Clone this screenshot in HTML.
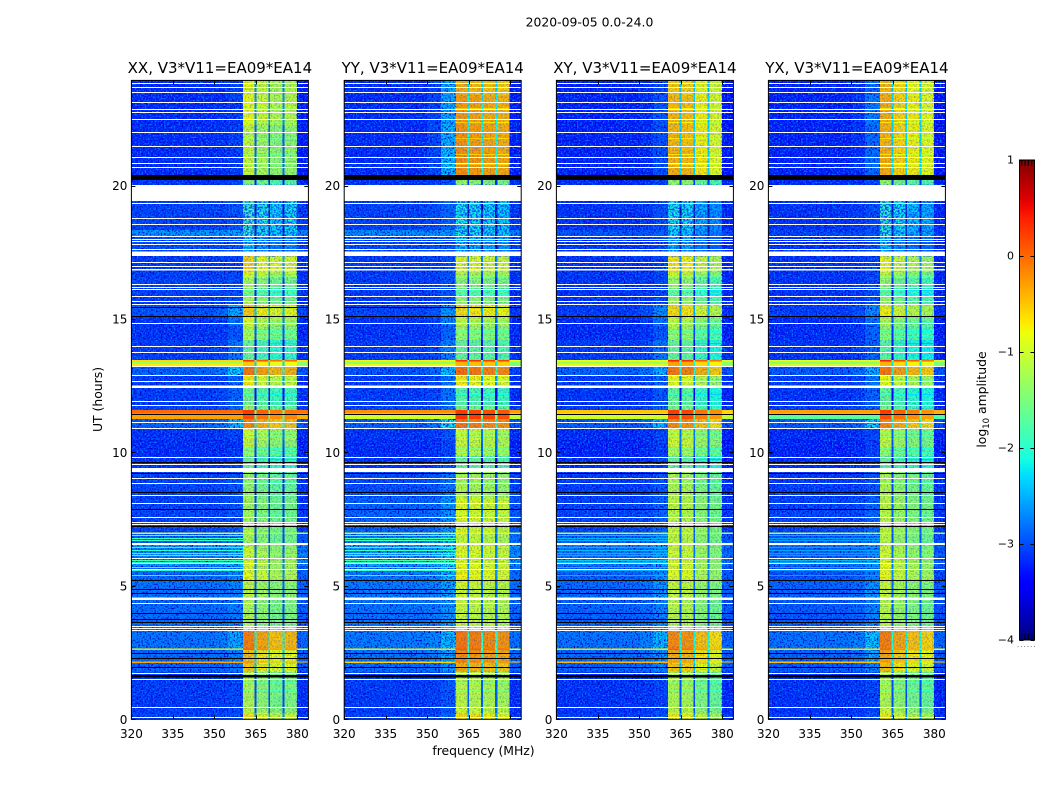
<!DOCTYPE html>
<html lang="en">
<head>
<meta charset="utf-8">
<title>2020-09-05 amplitude waterfall</title>
<style>
html,body{margin:0;padding:0;background:#fff;}
svg{display:block;}
text{font-family:"DejaVu Sans","Liberation Sans",sans-serif;fill:#000;}
</style>
</head>
<body>
<svg id="figure" xmlns="http://www.w3.org/2000/svg" width="1050" height="800" viewBox="0 0 1050 800">
  <defs>
    <filter id="speckle-dark" x="0" y="0" width="1" height="1" color-interpolation-filters="sRGB">
      <feTurbulence type="fractalNoise" baseFrequency="0.62" numOctaves="1" seed="4"/>
      <feColorMatrix values="0 0 0 0 0  0 0 0 0 0  0 0 0 0 0.78  4 0 0 0 -1.85"/>
    </filter>
    <filter id="speckle-light" x="0" y="0" width="1" height="1" color-interpolation-filters="sRGB">
      <feTurbulence type="fractalNoise" baseFrequency="0.62" numOctaves="1" seed="11"/>
      <feColorMatrix values="0 0 0 0 0  0 0 0 0 0.5  0 0 0 0 1  0 4 0 0 -1.95"/>
    </filter>
    <filter id="speckle-strong" x="0" y="0" width="1" height="1" color-interpolation-filters="sRGB">
      <feTurbulence type="fractalNoise" baseFrequency="0.55" numOctaves="1" seed="7"/>
      <feColorMatrix values="0 0 0 0 0  0 0 0 0 0.3  0 0 0 0 1  6 0 0 0 -2.7"/>
    </filter>
    <linearGradient id="jet-gradient" x1="0" y1="1" x2="0" y2="0"></linearGradient>
  </defs>
  <text x="589.5" y="26.5" font-size="12.4" text-anchor="middle">2020-09-05 0.0-24.0</text>
  <text x="483.5" y="755" font-size="12.4" text-anchor="middle">frequency (MHz)</text>
  <text transform="translate(102,399.5) rotate(-90)" font-size="12.4" text-anchor="middle">UT (hours)</text>
  <g id="panels"></g>
  <g id="colorbar"></g>
  <text transform="translate(986,399.5) rotate(-90)" font-size="12.4" text-anchor="middle">log<tspan font-size="8.5" dy="3">10</tspan><tspan dy="-3"> amplitude</tspan></text>
</svg>
<script>
// Time segments: lower edge of each segment, in UT hours (top of the plot is axisTopHour).
const segmentBottomHours = [
23.40,22.28,21.34,20.40,20.21,20.03,19.43,18.34,18.11,17.52,
17.36,16.77,16.54,16.20,15.85,15.53,15.12,14.75,14.22,13.47,
13.41,13.24,12.90,12.42,11.78,11.59,11.46,11.26,10.92,10.47,
10.20,9.87,9.42,9.27,8.33,7.25,7.00,6.96,6.53,6.40,
6.25,6.10,5.95,5.75,5.55,5.22,4.58,4.47,3.53,3.35,
2.65,2.61,2.17,2.13,1.77,1.55,0.46,0.24,0];

// log10 amplitude outside the band (320-350 MHz)
const backgroundXX = [
-3.2,-3.2,-3.2,-3.2,-2.9,-3.15,-3.15,-3.05,-2.55,-3,
-3.15,-3.1,-3.1,-3.05,-3.05,-3.1,-2.95,-3.15,-3.15,-3.1,
-.6,-1.3,-2.85,-3.1,-3.1,-3.05,0,-.3,-2.85,-3.15,
-3.2,-3.2,-3.15,-3.05,-3.05,-3.05,-3.05,-1,-2.85,-2.5,
-2.75,-2.5,-2.75,-2.5,-2.8,-2.8,-2.75,-2.85,-2.8,-2.75,
-2.75,-.8,-2.8,-.35,-2.85,-3.05,-3.1,-3.1,-3.05];
const backgroundYY = [
-3.2,-3.2,-3.2,-3.2,-2.9,-3.15,-3.15,-3.05,-2.6,-3,
-3.15,-3.1,-3.1,-3.1,-3.1,-3.1,-3.05,-3.15,-3.15,-3.1,
-.75,-1.4,-2.95,-3.1,-3.1,-3.05,-.2,-1,-2.85,-3.15,
-3.2,-3.2,-3.15,-3.05,-3,-2.85,-2.85,-1.1,-2.7,-2.45,
-2.65,-2.45,-2.65,-2.45,-2.7,-2.7,-2.7,-2.75,-2.75,-2.7,
-2.7,-.8,-2.75,-.5,-2.8,-3.05,-3.1,-3.1,-3.05];
const backgroundXY = [
-3.25,-3.25,-3.25,-3.25,-2.95,-3.2,-3.2,-3.15,-2.95,-3.15,
-3.2,-3.15,-3.15,-3.15,-3.15,-3.15,-3.1,-3.2,-3.2,-3.1,
-.8,-1.3,-2.85,-3.1,-3.15,-3.1,-.5,-1,-2.9,-3.2,
-3.25,-3.25,-3.2,-3.15,-3.1,-3.05,-3.05,-1.2,-2.85,-2.65,
-2.8,-2.65,-2.8,-2.65,-2.85,-2.85,-2.8,-2.9,-2.85,-2.8,
-2.75,-.7,-2.8,-.5,-2.85,-3.1,-3.15,-3.15,-3.1];
const backgroundYX = [
-3.25,-3.25,-3.25,-3.25,-2.95,-3.2,-3.2,-3.15,-3.05,-3.15,
-3.2,-3.15,-3.15,-3.15,-3.15,-3.15,-3.1,-3.2,-3.2,-3.15,
-.85,-1.4,-2.9,-3.1,-3.15,-3.1,-.3,-1.7,-2.9,-3.2,
-3.25,-3.25,-3.2,-3.15,-3.1,-3.05,-3.05,-1.2,-2.9,-2.75,
-2.9,-2.75,-2.9,-2.75,-2.9,-2.95,-2.85,-2.95,-2.9,-2.85,
-2.75,-.7,-2.85,-.5,-2.9,-3.1,-3.15,-3.15,-3.1];

// log10 amplitude of the band shoulder (355-360 MHz)
const shoulderXX = [
-3.1,-3.1,-3.1,-3.1,-2.8,-3.05,-3.05,-2.95,-2.5,-2.95,
-3.05,-3.05,-3.05,-3,-3,-3,-2.45,-2.75,-2.95,-2.75,
-.6,-1.3,-2.25,-2.85,-2.85,-2.85,0,-.3,-2.35,-3.05,
-3.15,-3.15,-3.05,-2.95,-2.95,-2.95,-2.95,-1,-2.7,-2.4,
-2.6,-2.4,-2.6,-2.4,-2.65,-2.65,-2.65,-2.75,-2.7,-2.65,
-2.45,-.8,-2.65,-.35,-2.75,-2.95,-3.05,-3.05,-3];
const shoulderYY = [
-2.45,-2.45,-2.4,-2.35,-2.45,-2.95,-3,-2.85,-2.55,-2.95,
-3.05,-3,-3,-2.95,-2.95,-2.95,-2.55,-2.65,-2.85,-2.65,
-.75,-1.4,-2.35,-2.75,-2.75,-2.75,-.2,-1,-2.15,-2.95,
-3.05,-3.05,-2.95,-2.85,-2.75,-2.55,-2.55,-1.1,-2.4,-2.15,
-2.35,-2.15,-2.35,-2.15,-2.35,-2.4,-2.45,-2.55,-2.55,-2.45,
-2.35,-.8,-2.45,-.5,-2.55,-2.85,-2.95,-2.95,-2.85];
const shoulderXY = [
-3,-2.95,-3,-3,-2.85,-3.05,-3.05,-3,-2.85,-3,
-3.05,-3.05,-3.05,-3.05,-3.05,-3.05,-2.6,-2.75,-2.95,-2.75,
-.8,-1.3,-2.4,-2.85,-2.95,-2.85,-.5,-1,-2.35,-3.05,
-3.1,-3.1,-3.05,-2.95,-2.95,-2.85,-2.85,-1.2,-2.65,-2.45,
-2.6,-2.45,-2.6,-2.45,-2.6,-2.6,-2.55,-2.65,-2.65,-2.55,
-2.35,-.7,-2.55,-.5,-2.65,-2.95,-3.05,-3.05,-2.95];
const shoulderYX = [
-2.8,-2.7,-2.8,-2.8,-2.75,-3.05,-3.05,-3,-2.95,-3,
-3.05,-3.05,-3.05,-3,-3,-3,-2.6,-2.75,-2.85,-2.85,
-.85,-1.4,-2.4,-2.75,-2.85,-2.85,-.3,-1.7,-2.25,-3.05,
-3.1,-3.05,-3.05,-2.95,-2.95,-2.85,-2.85,-1.2,-2.75,-2.55,
-2.7,-2.55,-2.7,-2.55,-2.7,-2.7,-2.55,-2.65,-2.65,-2.4,
-2.3,-.7,-2.45,-.5,-2.65,-2.95,-3.05,-3.05,-2.95];

// log10 amplitude of the strongest sub-band (360-365 MHz)
const signalXX = [
-.85,-.8,-1.05,-1,-1.3,-1.4,-2,-1.85,-1.9,-2.3,
-2.3,-.6,-.8,-1.2,-1.35,-1.2,-.55,-.85,-1.05,-1.6,
.3,-.5,-.1,-.7,-1.5,-1.3,.25,.15,-.2,-.85,
-1.05,-1.2,-1.6,-1.5,-1.3,-1.2,-1.15,-1,-1.2,-1,
-1,-.9,-1,-.85,-.9,-.8,-1.05,-1,-1.15,-1,
-.15,.05,-.5,-.1,-.55,-1.1,-1.15,-1.05,-.7];
const signalYY = [
-.4,-.28,-.25,-.22,-1.2,-1.3,-2.2,-2.1,-2.1,-2.35,
-2.3,-.85,-1.05,-1.35,-1.5,-1.3,-.65,-1,-1.2,-1.6,
.35,-.4,-.05,-.7,-1.7,-1.5,.25,.3,-.1,-.9,
-1,-1,-1.6,-1.5,-1.15,-.85,-.9,-.7,-1,-.85,
-.85,-.8,-.85,-.85,-.8,-.75,-.95,-.9,-1,-.85,
-.1,.1,-.2,0,-.4,-1,-1.05,-.95,-.65];
const signalXY = [
-.55,-.45,-.45,-.4,-1.1,-1.3,-2.15,-2.1,-2.2,-2.4,
-2.3,-.7,-.95,-1.3,-1.45,-1.25,-.65,-1,-1.2,-1.6,
.4,-.3,-.1,-.8,-1.6,-1.5,.25,.2,-.2,-.9,
-.95,-1.05,-1.6,-1.5,-1.15,-1.05,-1,-.95,-1.05,-.95,
-.95,-.9,-.95,-.9,-.9,-.85,-1,-1,-1.1,-1,
-.2,.05,-.4,-.2,-.55,-1.1,-1.15,-1.05,-.75];
const signalYX = [
-.45,-.4,-.42,-.38,-1.1,-1.3,-2,-1.95,-2,-2.35,
-2.3,-.8,-1,-1.35,-1.5,-1.3,-.75,-1.1,-1.3,-1.7,
.4,-.4,-.1,-.8,-1.6,-1.5,.25,.15,-.2,-1,
-1.05,-1.2,-1.6,-1.5,-1.15,-1.05,-1.05,-1,-1.1,-1,
-.95,-.9,-.95,-.85,-.85,-.8,-1,-1,-1.1,-1,
-.15,0,-.35,-.2,-.5,-1.1,-1.15,-1,-.75];

// Frequency channel edges in MHz
const channelEdgesMHz = [320,350,355,360.3,364.5,365.2,369.5,370.2,374.6,375.4,379.8,384];
// Offsets (log10) of the four sub-bands and the three notches between them, per correlation
const offsetsXX = [0,-1.85,-.2,-1.85,-.35,-1.85,-.3];
const offsetsYY = [0,-1.85,-.05,-1.85,-.1,-1.85,-.15];
const offsetsXY = [0,-1.85,-.05,-1.85,-.3,-1.85,-.45];
const offsetsYX = [0,-1.85,-.2,-1.85,-.35,-1.85,-.45];

// Bright interference streaks left of the band
const streakHours = [13.32,13.28,6.99,6.91,6.81,6.72,6.46,6.35,6.24,6.15,5.97,5.88,5.70,5.60,5.41,2.63,2.15];
const streakXX = [-.7,-.7,-1,-1.6,-1.9,-2,-2,-2,-2,-2,-1.9,-2,-2,-2,-2.1,-.5,-.3];
const streakYY = [-.85,-.85,-1,-1.5,-1.8,-1.9,-1.9,-1.9,-1.9,-1.9,-1.85,-1.9,-1.9,-1.9,-2,-.6,-.55];
const streakXY = [-.9,-.9,-1.2,-2.4,-2.5,-2.5,-2.5,-2.45,-2.5,-2.5,-2.4,-2.45,-2.45,-2.5,-2.5,-.6,-.4];
const streakYX = [-1,-1,-1.2,-2.5,-2.6,-2.6,-2.6,-2.55,-2.6,-2.6,-2.5,-2.55,-2.55,-2.6,-2.6,-.6,-.45];

// In-band dim rows (hours) and how far they drop (log10)
const bandDimHours = [22.9,22.4,21.8,21.2,20.8,17.0,16.6,16.1,15.95,15.75,15.6,15.0,14.9,14.6,14.5,14.35,14.1,12.7,12.2,10.75,10.6,10.35,10.15,10.0,9.75,8.9,7.7,6.2,5.8,5.4,4.2,1.4,1.2,1.1,0.9,0.6];
const bandDimDrop = [.2,.25,.2,.25,.2,.35,.3,.35,.35,.4,.35,.3,.3,.35,.35,.3,.35,.3,.3,.35,.4,.35,.4,.35,.4,.2,.2,.2,.25,.2,.25,.3,.35,.3,.35,.3];

// Flagged (missing) time rows, in UT hours
const whiteThinHours = [
23.84,23.69,23.50,23.13,22.87,22.75,22.50,22.00,21.50,21.06,20.85,20.69,
19.34,18.78,18.55,18.11,18.00,17.92,17.82,17.61,17.13,16.98,16.33,16.22,
16.12,15.85,15.69,15.55,14.84,14.00,13.76,13.24,12.90,12.68,11.94,11.78,
11.14,10.91,9.84,9.57,9.03,8.84,8.41,8.10,7.57,7.39,7.33,6.62,6.56,6.06,
5.85,5.62,4.36,3.51,3.43,3.35,1.75,1.52,0.46,0.07];
const whiteWideStart = [20.03,17.53,16.88,12.51,9.42,4.57];
const whiteWideEnd = [19.43,17.36,16.82,12.42,9.26,4.47];
const blackThinHours = [
15.13,11.46,9.63,9.22,8.51,7.87,7.25,5.21,4.87,4.75,3.97,3.77,3.65,2.47,2.29,1.95];
const blackWideStart = [20.40,1.66];
const blackWideEnd = [20.21,1.57];

// Band rows with patchy (flickering) power
const patchyStart = [20.03];
const patchyEnd = [17.36];

// Axis ticks and labels
const freqTicks = [320,335,350,365,380];
const hourTicks = [0,5,10,15,20];
const colorTicks = [1,0,-1,-2,-3,-4];
const panelNames = ["XX","YY","XY","YX"];
const panelTitles = ["XX, V3*V11=EA09*EA14","YY, V3*V11=EA09*EA14","XY, V3*V11=EA09*EA14","YX, V3*V11=EA09*EA14"];

const backgrounds = [backgroundXX,backgroundYY,backgroundXY,backgroundYX];
const shoulders = [shoulderXX,shoulderYY,shoulderXY,shoulderYX];
const signals = [signalXX,signalYY,signalXY,signalYX];
const offsets = [offsetsXX,offsetsYY,offsetsXY,offsetsYX];
const streaks = [streakXX,streakYY,streakXY,streakYX];

// Layout
const panelLeft = [131.4,344.2,556.4,768.4];
const panelWidth = 177;
const plotBottom = 719.3;
const plotTop = 80.4;
const pxPerMHz = panelWidth/64;
const pxPerHour = 26.68;
const axisTopHour = (plotBottom-plotTop)/pxPerHour;
const NS = "http://www.w3.org/2000/svg";

function xScale(panel, mhz){ return panelLeft[panel] + (mhz-320)*pxPerMHz; }
function yScale(hour){ return plotBottom - hour*pxPerHour; }

function interp(points, t){
  for(let i=1;i<points.length;i++){
    if(t<=points[i][0]){
      const a=points[i-1], b=points[i];
      return a[1]+(b[1]-a[1])*(t-a[0])/(b[0]-a[0]);
    }
  }
  return points[points.length-1][1];
}
const jetR=[[0,0],[.35,0],[.66,1],[.89,1],[1,.5]];
const jetG=[[0,0],[.125,0],[.375,1],[.64,1],[.91,0],[1,0]];
const jetB=[[0,.5],[.11,1],[.34,1],[.65,0],[1,0]];
function jetColor(level){
  const t=Math.max(0,Math.min(1,(level+4)/5));
  const c=[jetR,jetG,jetB].map(p=>Math.round(interp(p,t)*255));
  return "rgb("+c[0]+","+c[1]+","+c[2]+")";
}
function channelLevel(panel, seg, col){
  const bg=backgrounds[panel][seg], sh=shoulders[panel][seg], sig=signals[panel][seg];
  if(col===0) return bg;
  if(col===1) return bg+(sh-bg)*.2;
  if(col===2) return sh;
  if(col===10) return bg-.08;
  return sig+offsets[panel][col-3];
}
function segmentIndex(hour){
  for(let s=0;s<segmentBottomHours.length;s++){
    if(hour>=segmentBottomHours[s]) return s;
  }
  return segmentBottomHours.length-1;
}
function make(tag, attrs, parent){
  const e=document.createElementNS(NS,tag);
  for(const k in attrs) e.setAttribute(k,attrs[k]);
  parent.appendChild(e);
  return e;
}

const panelsGroup=document.getElementById("panels");
panelNames.forEach(function(name,p){
  const g=make("g",{},panelsGroup);
  
  

  const cells=make("g",{"shape-rendering":"crispEdges"},g);
  
  

  // receiver noise texture over the quiet part of the heatmap
  const noiseSpans=[[320,360.3,1],[360.3,379.8,.25],[379.8,384,1]];
  noiseSpans.forEach(function(span){
    const dark=make("rect",{x:xScale(p,span[0]),y:plotTop,width:xScale(p,span[1])-xScale(p,span[0]),height:plotBottom-plotTop,filter:"url(#speckle-dark)",opacity:span[2]},g);
    
    
    const light=make("rect",{x:xScale(p,span[0]),y:plotTop,width:xScale(p,span[1])-xScale(p,span[0]),height:plotBottom-plotTop,filter:"url(#speckle-light)",opacity:span[2]},g);
    
    
  });
  patchyStart.forEach(function(h,i){
    const patch=make("rect",{x:xScale(p,360.3),y:yScale(h),width:xScale(p,379.8)-xScale(p,360.3),height:yScale(patchyEnd[i])-yScale(h),filter:"url(#speckle-strong)"},g);
    
    
  });

  // bright rows sit above the noise texture
  const bright=make("g",{"shape-rendering":"crispEdges"},g);
  
  

  let top=axisTopHour;
  segmentBottomHours.forEach(function(bottom,s){
    const target=backgrounds[p][s]>-1.8?bright:cells;
    for(let c=0;c<channelEdgesMHz.length-1;c++){
      const x0=xScale(p,channelEdgesMHz[c]), x1=xScale(p,channelEdgesMHz[c+1]);
      const cell=make("rect",{x:x0.toFixed(2),y:yScale(top).toFixed(2),width:(x1-x0).toFixed(2),height:(yScale(bottom)-yScale(top)+.2).toFixed(2),fill:jetColor(channelLevel(p,s,c))},target);
      
      
    }
    top=bottom;
  });

  streakHours.forEach(function(h,i){
    const st=make("rect",{x:xScale(p,320),y:Math.round(yScale(h)),width:xScale(p,360.3)-xScale(p,320),height:1,fill:jetColor(streaks[p][i])},bright);
    
    
  });
  bandDimHours.forEach(function(h,i){
    const s=segmentIndex(h);
    for(let c=3;c<=9;c+=2){
      const x0=xScale(p,channelEdgesMHz[c]), x1=xScale(p,channelEdgesMHz[c+1]);
      const dim=make("rect",{x:x0.toFixed(2),y:Math.round(yScale(h)),width:(x1-x0).toFixed(2),height:1,fill:jetColor(channelLevel(p,s,c)-bandDimDrop[i])},bright);
      
      
    }
  });

  // flagged rows
  const flags=make("g",{"shape-rendering":"crispEdges"},g);
  
  
  function flagRow(hi,lo,color){
    const r=make("rect",{x:panelLeft[p],y:yScale(hi).toFixed(2),width:panelWidth,height:(yScale(lo)-yScale(hi)).toFixed(2),fill:color},flags);
    
    
  }
  function flagThin(h,color){
    const r=make("rect",{x:panelLeft[p],y:Math.round(yScale(h)),width:panelWidth,height:1,fill:color},flags);
    
    
  }
  blackThinHours.forEach(function(h){ flagThin(h,"#000"); });
  if(p<2){ flagThin(15.44,"#000"); }
  blackWideStart.forEach(function(h,i){ flagRow(h,blackWideEnd[i],"#000"); });
  whiteThinHours.forEach(function(h){ flagThin(h,"#fff"); });
  whiteWideStart.forEach(function(h,i){ flagRow(h,whiteWideEnd[i],"#fff"); });

  // ticks and labels
  const axes=make("g",{stroke:"#000","stroke-width":"1"},g);
  
  
  freqTicks.forEach(function(f){
    const x=Math.round(xScale(p,f))+.5;
    const tb=make("line",{x1:x,x2:x,y1:plotBottom,y2:plotBottom-4},axes);
    
    
    const tt=make("line",{x1:x,x2:x,y1:plotTop,y2:plotTop+4},axes);
    
    
    const lab=make("text",{x:xScale(p,f),y:plotBottom+18.7,"font-size":"12","text-anchor":"middle"},g);
    
    
    lab.textContent=f;
  });
  hourTicks.forEach(function(h){
    const y=Math.round(yScale(h))+.5;
    const tl=make("line",{x1:panelLeft[p],x2:panelLeft[p]+4,y1:y,y2:y},axes);
    
    
    const tr=make("line",{x1:panelLeft[p]+panelWidth,x2:panelLeft[p]+panelWidth-4,y1:y,y2:y},axes);
    
    
    const lab=make("text",{x:panelLeft[p]-4,y:yScale(h)+4.5,"font-size":"12","text-anchor":"end"},g);
    
    
    lab.textContent=h;
  });
  const frame=make("rect",{x:panelLeft[p],y:plotTop,width:panelWidth,height:plotBottom-plotTop,fill:"none",stroke:"#000","stroke-width":"1"},g);
  
  
  const title=make("text",{x:panelLeft[p]+panelWidth/2,y:73,"font-size":"15","text-anchor":"middle"},g);
  
  
  title.textContent=panelTitles[p];
});

// Colour bar
const cbLeft=1019.5, cbRight=1034.5, cbTop=160, cbBottom=640;
function cbScale(v){ return cbBottom-(v+4)*(cbBottom-cbTop)/5; }
const grad=document.getElementById("jet-gradient");
for(let i=0;i<=50;i++){
  const stop=make("stop",{offset:(i/50).toFixed(2),"stop-color":jetColor(-4+i/10)},grad);
  
  
}
const cb=document.getElementById("colorbar");
const cbFill=make("rect",{x:cbLeft,y:cbTop,width:cbRight-cbLeft,height:cbBottom-cbTop,fill:"url(#jet-gradient)",stroke:"#000","stroke-width":"1"},cb);


colorTicks.forEach(function(v){
  const y=Math.round(cbScale(v))+.5;
  const a=make("line",{x1:cbLeft,x2:cbLeft+4,y1:y,y2:y,stroke:"#000"},cb);
  
  
  const b=make("line",{x1:cbRight,x2:cbRight-4,y1:y,y2:y,stroke:"#000"},cb);
  
  
  const lab=make("text",{x:cbLeft-5.5,y:cbScale(v)+3.5,"font-size":"11","text-anchor":"end"},cb);
  
  
  lab.textContent=(v<0?"\u2212"+(-v):String(v));
});
[1021.7,1025,1028.3,1031.7].forEach(function(x){
  const t1=make("line",{x1:x,x2:x,y1:cbTop,y2:cbTop+6,stroke:"#000","stroke-width":"1"},cb);
  
  
  const t2=make("line",{x1:x,x2:x,y1:cbBottom,y2:cbBottom-6,stroke:"#000","stroke-width":"1"},cb);
  
  
});
const dots=make("line",{x1:1017.5,x2:1035,y1:646.5,y2:646.5,stroke:"#888","stroke-width":"1","stroke-dasharray":"1 2.3"},cb);


</script>
</body>
</html>
